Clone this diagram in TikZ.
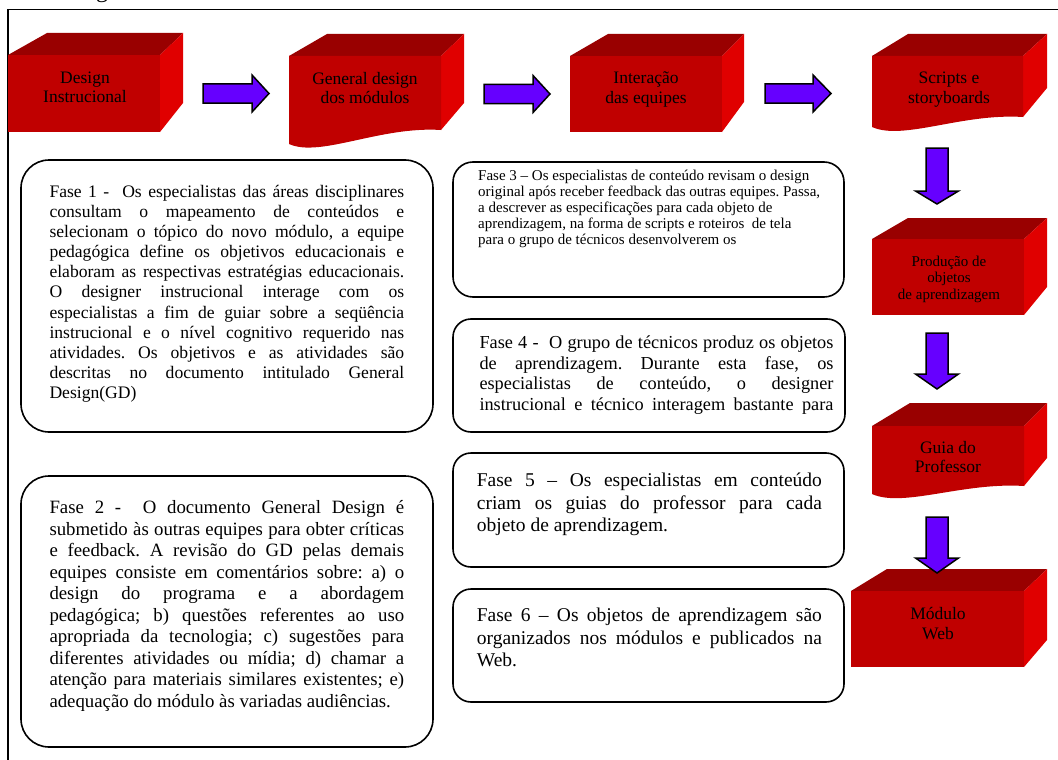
\documentclass[tikz,border=0pt]{standalone}
\usepackage{fontspec}
\setmainfont{Liberation Serif}
\definecolor{cubefront}{HTML}{C00000}
\definecolor{cubetop}{HTML}{990000}
\definecolor{cubeside}{HTML}{E00000}
\definecolor{flowarrow}{HTML}{6600FF}

% plain 3-D block: front x1,y1,x2,y2; back-left x, back-right x, back top y, back bottom y
\newcommand\cube[8]{%
  \fill[cubetop]  (#1,#2) -- (#5,#7) -- (#6,#7) -- (#3,#2) -- cycle;
  \fill[cubeside] (#3,#2) -- (#6,#7) -- (#6,#8) -- (#3,#4) -- cycle;
  \fill[cubefront] (#1,#2) rectangle (#3,#4);}
% 3-D block with a wavy (document) bottom edge:
% x1,y1,x2, left bottom y, right bottom y, back-left x, back-right x, back top y, back bottom y
\newcommand\wcube[9]{%
  \fill[cubetop]  (#1,#2) -- (#6,#8) -- (#7,#8) -- (#3,#2) -- cycle;
  \fill[cubeside] (#3,#2) -- (#7,#8) -- (#7,#9) -- (#3,#5) -- cycle;
  \fill[cubefront] (#1,#2) -- (#3,#2) -- (#3,#5)
     .. controls (#3-61,#5-4) and (#1+31,#4+14) .. (#1,#4) -- cycle;}
% block arrows
\newcommand\harrow[4]{% start x, neck x, tip x, centre y
  \draw[blockarrow] (#1,#4-9.5) -- (#2,#4-9.5) -- (#2,#4-18.5) -- (#3,#4)
     -- (#2,#4+18.5) -- (#2,#4+9.5) -- (#1,#4+9.5) -- cycle;}
\newcommand\varrow[4]{% centre x, top y, neck y, tip y
  \draw[blockarrow] (#1-11,#2) -- (#1+11,#2) -- (#1+11,#3) -- (#1+21.5,#3)
     -- (#1,#4) -- (#1-21.5,#3) -- (#1-11,#3) -- cycle;}
% the font's own interword spaces, no extra space after full stops
\newcommand\plainspaces{\spaceskip=0pt\xspaceskip=0pt\frenchspacing}
% a fully justified line
\newcommand\jline[1]{\noindent\hbox to \hsize{\plainspaces#1}}

\begin{document}
\begin{tikzpicture}[x=1pt,y=-1pt,
  blockarrow/.style={fill=flowarrow,draw=black,line width=1.5pt,line join=miter},
  boxlabel/.style={align=center,inner sep=0pt,font=\fontsize{17.5}{19.5}\selectfont},
  phasebox/.style={draw=black,line width=1.6pt,rounded corners=#1},
  phasetext/.style={anchor=north west,inner sep=0pt,align=left,text width=#1}]
\useasboundingbox (0,0) rectangle (1058,760);

% frame
\draw[line width=1.5pt] (8,760) -- (8,9.5) -- (1060,9.5);
\node (heading) [anchor=base west,inner sep=0pt,font=\fontsize{24}{28}\selectfont] at (96,-2) {g};

% 3-D blocks
\cube{8}{55}{160}{132}{47}{183}{33}{103}
\wcube{289}{56}{441}{144}{130}{327}{464}{34}{103}
\cube{570}{56}{722}{132}{608}{744}{34}{102}
\wcube{872}{56}{1023}{127}{117}{908}{1047}{34}{88}
\cube{872}{239}{1024}{315}{908}{1047}{218}{287}
\wcube{872}{426}{1024}{494}{486}{910}{1047}{403}{458}
\cube{851}{591}{1024}{667}{887}{1047}{569}{640}

\node[boxlabel] (b1) at (85,87.5) {\plainspaces Design\\Instrucional};
\node[boxlabel] (b2) at (365,88) {\plainspaces General design\\dos módulos};
\node[boxlabel] (b3) at (646,89.5) {\plainspaces Interação\\das equipes};
\node[boxlabel] (b4) at (949,89.5) {\plainspaces Scripts e\\storyboards};
\node[boxlabel,font=\fontsize{15}{16.7}\selectfont] (b5) at (949,279.2) {\plainspaces Produção de\\objetos\\de aprendizagem};
\node[boxlabel] (b6) at (948,456.8) {\plainspaces Guia do\\Professor};
\node[boxlabel] (b7) at (938,623.3) {\plainspaces Módulo\\Web};

% block arrows
\harrow{203}{252}{269}{93.5}
\harrow{484}{533}{550}{94}
\harrow{765}{813}{831}{93.5}
\varrow{937}{148}{191}{204}
\varrow{937}{333}{374}{389}
\varrow{937}{517}{558}{573}

% phase descriptions
\draw[phasebox=28pt] (21,160) rectangle (433,432);
\node[phasetext=354.7pt,font=\fontsize{17.6}{20.1}\selectfont] (f1) at (49.3,185) {%
\jline{Fase 1 -\ \ Os especialistas das áreas disciplinares}\\
\jline{consultam o mapeamento de conteúdos e}\\
\jline{selecionam o tópico do novo módulo, a equipe}\\
\jline{pedagógica define os objetivos educacionais e}\\
\jline{elaboram as respectivas estratégias educacionais.}\\
\jline{O designer instrucional interage com os}\\
\jline{especialistas a fim de guiar sobre a seqüência}\\
\jline{instrucional e o nível cognitivo requerido nas}\\
\jline{atividades. Os objetivos e as atividades são}\\
\jline{descritas no documento intitulado General}\\
\plainspaces Design(GD)};

\draw[phasebox=28pt] (21,476) rectangle (433,747);
\node[phasetext=354.7pt,font=\fontsize{18.8}{21.5}\selectfont] (f2) at (49.3,500.5) {%
\jline{Fase 2 -\ \ O documento General Design é}\\
\jline{submetido às outras equipes para obter críticas}\\
\jline{e feedback. A revisão do GD pelas demais}\\
\jline{equipes consiste em comentários sobre: a) o}\\
\jline{design do programa e a abordagem}\\
\jline{pedagógica; b) questões referentes ao uso}\\
\jline{apropriada da tecnologia; c) sugestões para}\\
\jline{diferentes atividades ou mídia; d) chamar a}\\
\jline{atenção para materiais similares existentes; e)}\\
\plainspaces adequação do módulo às variadas audiências.};

\draw[phasebox=20pt] (453,162) rectangle (844,297);
\node[phasetext=360pt,font=\fontsize{15}{16}\selectfont] (f3) at (478,169.8) {%
\plainspaces Fase 3 – Os especialistas de conteúdo revisam o design\\
original após receber feedback das outras equipes. Passa,\\
a descrever as especificações para cada objeto de\\
aprendizagem, na forma de scripts e roteiros\ \ de tela\\
para o grupo de técnicos desenvolverem os};

\draw[phasebox=18pt] (453,319) rectangle (845,432);
\node[phasetext=354pt,font=\fontsize{18.3}{20.6}\selectfont] (f4) at (479.3,335.8) {%
\jline{Fase 4 -\ \ O grupo de técnicos produz os objetos}\\
\jline{de aprendizagem. Durante esta fase, os}\\
\jline{especialistas de conteúdo, o designer}\\
\jline{instrucional e técnico interagem bastante para}};

\draw[phasebox=18pt] (453,453) rectangle (844,567);
\node[phasetext=345pt,font=\fontsize{19.5}{22.7}\selectfont] (f5) at (476.7,472.7) {%
\jline{Fase 5 – Os especialistas em conteúdo}\\
\jline{criam os guias do professor para cada}\\
\plainspaces objeto de aprendizagem.};

\draw[phasebox=18pt] (453,589) rectangle (844,702);
\node[phasetext=345pt,font=\fontsize{19.5}{22.7}\selectfont] (f6) at (476.7,607.7) {%
\jline{Fase 6 – Os objetos de aprendizagem são}\\
\jline{organizados nos módulos e publicados na}\\
\plainspaces Web.};
\end{tikzpicture}
\end{document}
